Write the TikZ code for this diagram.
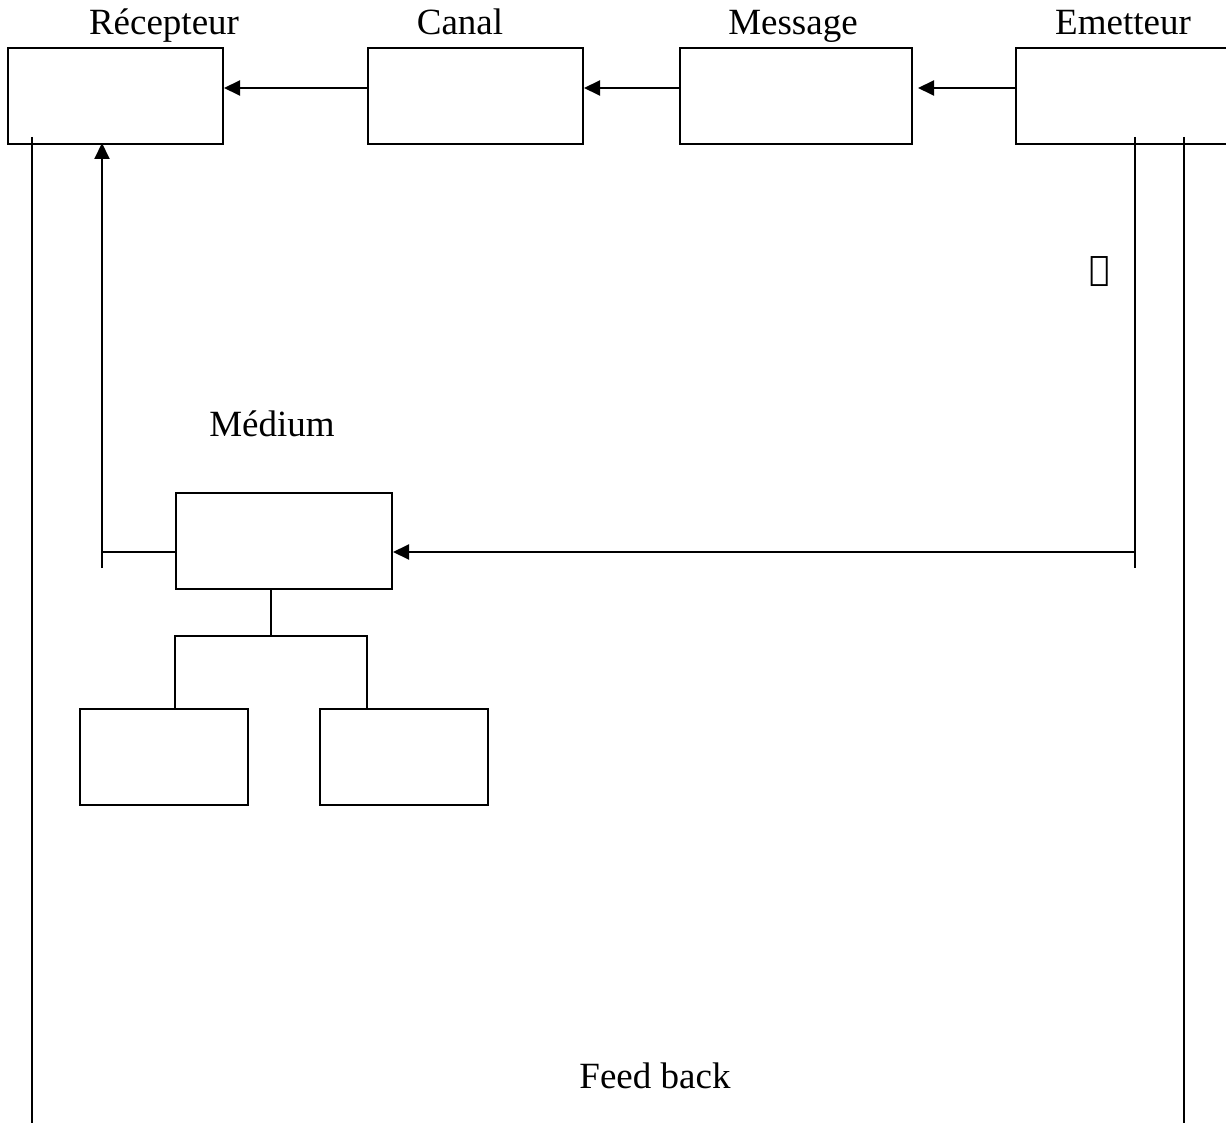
\documentclass[tikz,border=0pt]{standalone}
\usepackage{fontspec}
\setmainfont{Liberation Serif}
\newfontfamily\arabicfont[Script=Arabic]{DejaVu Sans}
\TeXXeTstate=1
\usetikzlibrary{arrows.meta}
\begin{document}
\begin{tikzpicture}[x=1pt,y=-1pt,
  box/.style={draw,line width=2pt,minimum width=#1,minimum height=96pt,inner sep=0pt,anchor=north west},
  box/.default=215pt,
  ln/.style={line width=2pt},
  arr/.style={ln,-{Triangle[length=16pt,width=15pt]}},
  lbl/.style={font=\fontsize{37}{44}\selectfont,inner sep=0pt,anchor=base}]
\useasboundingbox (0,0) rectangle (1226,1131);
\begin{scope}
\clip (0,0) rectangle (1226,1131);
\node[box=215pt] (rec) at (7,47) {};
\node[box=215pt] (can) at (367,47) {};
\node[box=232pt] (mes) at (679,47) {};
\node[box=230pt] (emi) at (1015,47) {};
\node[box=216pt] (med) at (175,492) {};
\node[box=168pt] (b1) at (79,708) {};
\node[box=168pt] (b2) at (319,708) {};
\end{scope}
% labels
\node[lbl] (trec) at (164,35) {Récepteur};
\node[lbl] (tcan) at (460,35) {Canal};
\node[lbl] (tmes) at (793,35) {Message};
\node[lbl] (temi) at (1123,35) {Emetteur};
\node[lbl] (tmed) at (272,436) {Médium};
\node[lbl] (tfb) at (655,1088) {Feed back};
\node[inner sep=0pt] (sym) at (1100,272) {\arabicfont\fontsize{34}{40}\selectfont\beginR ﷺ\endR};
% coordinates
\coordinate (topY) at (0,88);
\coordinate (emiTop) at (1135,137);
\coordinate (emiBot) at (1135,568);
\coordinate (emiMid) at (1135,552);
\coordinate (recTop) at (102,143);
\coordinate (recBot) at (102,568);
\coordinate (recMid) at (102,552);
\coordinate (fbLtop) at (32,137);
\coordinate (fbLbot) at (32,1123);
\coordinate (fbRtop) at (1184,137);
\coordinate (fbRbot) at (1184,1123);
\coordinate (medBot) at (271,636);
\coordinate (hl) at (175,636);
\coordinate (hr) at (367,636);
\coordinate (mesTip) at (918,88);
% top chain
\draw[arr] (topY -| can.west) -- (topY -| rec.east);
\draw[arr] (topY -| mes.west) -- (topY -| can.east);
\draw[arr] (topY -| emi.west) -- (mesTip);
% medium
\draw[ln] (emiTop) -- (emiBot);
\draw[arr] (emiMid) -- (emiMid -| med.east);
\draw[arr] (recBot) -- (recTop);
\draw[ln] (recMid) -- (recMid -| med.west);
\draw[ln] (medBot |- med.south) -- (medBot);
\draw[ln] (hl |- b1.north) -- (hl) -- (hr) -- (hr |- b2.north);
% feedback
\draw[ln] (fbLtop) -- (fbLbot);
\draw[ln] (fbRtop) -- (fbRbot);
\end{tikzpicture}
\end{document}
